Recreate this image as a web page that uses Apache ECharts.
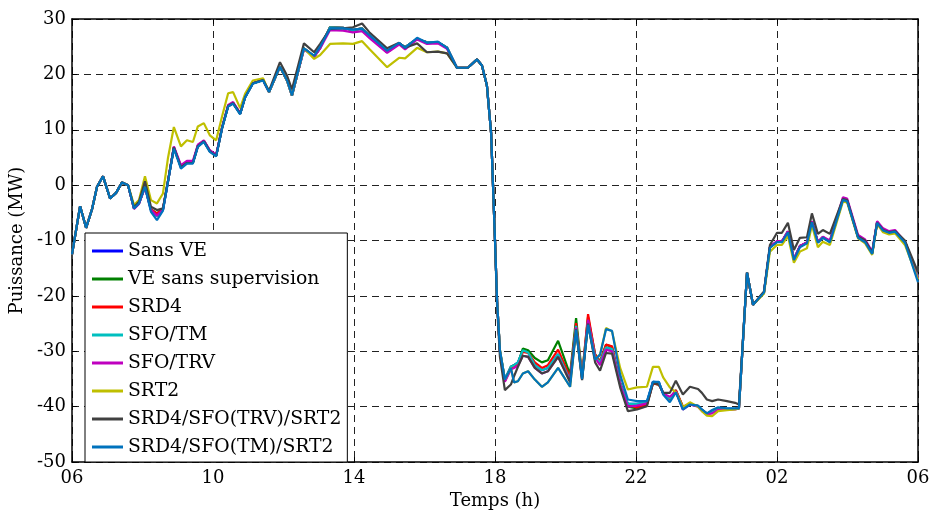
<!DOCTYPE html>
<html>
<head>
<meta charset="utf-8">
<script src="https://cdn.jsdelivr.net/npm/echarts@6/dist/echarts.min.js"></script>
<style>
  html, body { margin: 0; padding: 0; background: #fff; }
  #main { width: 934px; height: 515px; }
</style>
</head>
<body>
<div id="main"></div>
<script>
// time in hours (06h -> 30h = 06h next day)
var hours = [
	6.00, 6.23, 6.40, 6.57, 6.71, 6.88, 7.08, 7.25, 7.42, 7.59,
	7.76, 7.90, 8.07, 8.24, 8.41, 8.58, 8.72, 8.89, 9.09, 9.26, 9.43, 9.57, 9.74, 9.91, 10.09,
	10.26, 10.43, 10.57, 10.77, 10.91, 11.13, 11.42, 11.59, 11.90, 12.10, 12.24, 12.58, 12.87, 13.04, 13.32, 13.69, 13.97,
	14.23, 14.45, 14.94, 15.28, 15.45, 15.79, 16.07, 16.38, 16.64, 16.92, 17.23, 17.49, 17.63, 17.77, 17.89,
	18.00, 18.06, 18.14, 18.28, 18.45, 18.54, 18.65, 18.79, 18.94, 19.13, 19.33, 19.50, 19.79, 20.13, 20.30, 20.47, 20.64, 20.84, 20.98, 21.15, 21.32, 21.55, 21.77, 22.03,
	22.31, 22.48, 22.65, 22.77, 22.96, 23.13, 23.33, 23.53, 23.76, 23.87, 24.01, 24.16, 24.33, 24.58, 24.81, 24.92,
	25.15, 25.32, 25.63, 25.80, 26.00, 26.14, 26.31, 26.48, 26.65, 26.85, 26.99, 27.16, 27.30, 27.50, 27.87, 27.99, 28.30, 28.50, 28.70, 28.84, 29.01, 29.18, 29.35, 29.63, 30.00
];

var sansVE = [
	-12.5, -3.8, -7.7, -4.3, -0.3, 1.6, -2.4, -1.4, 0.5, 0,
	-4.2, -3.3, -0.3, -4.5, -5.6, -4.5, 0.5, 6.8, 3.3, 4.1, 4.1, 7.1, 8, 6.2, 5.3,
	10.4, 14.3, 14.8, 12.9, 15.9, 18.4, 19, 16.8, 21.4, 18.9, 16.2, 24.7, 23.2, 24.8, 28.5, 28.4, 28,
	28.3, 26.8, 24, 25.6, 24.9, 26.4, 25.8, 25.8, 24.8, 21.2, 21.2, 22.7, 21.6, 18, 9.4,
	-10, -21, -30, -35, -32.8, -32.5, -32, -29.8, -30.2, -32.5, -33.4, -33, -30.5, -35.2, -25.4, -34.7, -24.6, -31, -32, -29.3, -29.6, -35.8, -39.5, -39.5,
	-39.2, -35.5, -35.6, -37.6, -38.5, -37.3, -40.3, -39.6, -39.9, -40.6, -41.3, -41, -40.5, -40.4, -40.4, -40.3,
	-15.8, -21.6, -19.4, -11.2, -10.2, -10.2, -8.4, -13.4, -11, -10.4, -6.6, -10.3, -9.4, -10.2, -2.6, -2.8, -9.4, -10.2, -12.3, -6.7, -8.1, -8.5, -8.3, -10.2, -16.5
];

var veSansSup = [
	-12.5, -3.8, -7.7, -4.3, -0.3, 1.6, -2.4, -1.4, 0.5, 0,
	-4.2, -3.3, -0.3, -4.4, -5.1, -4.3, 0.6, 6.8, 3.3, 4.1, 4.1, 7.1, 8, 6.2, 5.3,
	10.4, 14.3, 14.8, 12.9, 15.9, 18.4, 19, 16.8, 21.4, 18.9, 16.2, 24.7, 23.2, 24.8, 28.5, 28.4, 28,
	28.3, 26.8, 24, 25.6, 24.9, 26.4, 25.8, 25.8, 24.8, 21.2, 21.2, 22.7, 21.6, 18, 9.4,
	-10, -21, -30, -35.2, -32.8, -32.5, -32.2, -29.5, -29.8, -31.2, -32, -31.6, -28.1, -34.2, -24, -34.3, -23.8, -30.5, -31.8, -28.8, -29.2, -35.8, -40, -40.3,
	-39.6, -35.8, -36, -37.5, -38.6, -37, -40, -39.5, -39.9, -40.6, -41.2, -41, -40.5, -40.5, -40.4, -40.3,
	-15.8, -21.6, -19.4, -11.2, -10.2, -10.2, -8.4, -13.4, -11, -10.4, -6.6, -10.3, -9.4, -10.2, -2.6, -2.8, -9.4, -10.2, -12.3, -6.7, -8.1, -8.5, -8.3, -10.2, -16.5
];

var srd4 = [
	-12.5, -3.8, -7.7, -4.3, -0.3, 1.6, -2.4, -1.4, 0.5, 0,
	-4.2, -3.3, -0.3, -4.4, -5.1, -4.3, 0.6, 6.8, 3.3, 4.1, 4.1, 7.1, 8, 6.2, 5.3,
	10.4, 14.3, 14.8, 12.9, 15.9, 18.4, 19, 16.8, 21.4, 18.9, 16.2, 24.7, 23.2, 24.8, 28.5, 28.4, 28,
	28.3, 26.8, 24, 25.6, 24.9, 26.4, 25.8, 25.8, 24.8, 21.2, 21.2, 22.7, 21.6, 18, 9.4,
	-10, -21, -30, -35.4, -33, -32.7, -32.4, -30.1, -30.3, -32, -33, -32.5, -29.7, -34.7, -24.9, -34.5, -23.3, -30.6, -31.9, -28.8, -29.1, -35.6, -39.6, -40.2,
	-39.6, -35.8, -36, -37.5, -38.6, -37, -40, -39.5, -39.9, -40.6, -41.2, -41, -40.5, -40.5, -40.4, -40.3,
	-15.8, -21.6, -19.4, -11.2, -10.2, -10.2, -8.4, -13.4, -11, -10.4, -6.6, -10.3, -9.4, -10.2, -2.6, -2.8, -9.4, -10.2, -12.3, -6.7, -8.1, -8.5, -8.3, -10.2, -16.5
];

var sfoTM = [
	-12.5, -3.8, -7.7, -4.3, -0.3, 1.6, -2.4, -1.4, 0.5, 0,
	-4.2, -3.3, -0.3, -4.5, -5.6, -4.5, 0.5, 6.8, 3.3, 4.1, 4.1, 7.1, 8, 6.2, 5.3,
	10.4, 14.3, 14.8, 12.9, 15.9, 18.4, 19, 16.8, 21.4, 18.9, 16.2, 24.7, 23.2, 24.8, 28.5, 28.4, 28,
	28.3, 26.8, 24, 25.6, 24.9, 26.4, 25.8, 25.8, 24.8, 21.2, 21.2, 22.7, 21.6, 18, 9.4,
	-10, -21, -30, -35, -32.8, -32.5, -32, -29.8, -30.2, -32.5, -33.4, -33, -30.5, -35.2, -25.4, -34.7, -24.6, -31, -32, -29.3, -29.6, -35.8, -39.5, -39.5,
	-39.2, -35.5, -35.6, -37.6, -38.5, -37.3, -40.3, -39.6, -39.9, -40.6, -41.3, -41, -40.5, -40.4, -40.4, -40.3,
	-15.8, -21.6, -19.4, -11.2, -10.2, -10.2, -8.4, -13.4, -11, -10.4, -6.6, -10.3, -9.4, -10.2, -2.6, -2.8, -9.4, -10.2, -12.3, -6.7, -8.1, -8.5, -8.3, -10.2, -16.5
];

var sfoTRV = [
	-12.5, -3.8, -7.7, -4.3, -0.3, 1.6, -2.4, -1.4, 0.5, 0,
	-4.3, -3.4, -0.4, -4.5, -5.5, -4.4, 0.6, 7, 3.6, 4.4, 4.4, 7.3, 8.1, 6.3, 5.5,
	10.5, 14.5, 15, 13, 16, 18.4, 19, 16.8, 21.4, 18.9, 16.2, 24.5, 23.2, 24.7, 28, 27.9, 27.6,
	27.8, 26.5, 23.9, 25.4, 24.5, 26.3, 25.5, 25.6, 24.6, 21.2, 21.2, 22.7, 21.6, 18, 9.4,
	-10, -21, -30, -35.5, -33.3, -33, -32.6, -30.8, -31, -33, -34, -33.6, -31, -35.4, -25.7, -35, -24.3, -31.2, -32.5, -29.7, -30, -36, -40, -39.8,
	-39.4, -35.6, -35.8, -37.6, -38.2, -37.2, -40.5, -39.6, -40, -40.8, -41.4, -41.2, -40.6, -40.5, -40.5, -40.3,
	-15.8, -21.6, -19.4, -11.1, -10.1, -10.1, -8.3, -13.3, -11, -10.3, -6.5, -10.2, -9.3, -10, -2.2, -2.4, -9, -9.8, -12, -6.5, -7.8, -8.3, -8.1, -10.2, -16.8
];

var srt2 = [
	-12.5, -3.8, -7.7, -4.3, -0.3, 1.6, -2.4, -1.4, 0.5, 0,
	-3.6, -2.7, 1.6, -2.7, -3.3, -1.5, 4.8, 10.5, 7, 8.1, 7.8, 10.6, 11.2, 9, 8.1,
	12.5, 16.6, 16.8, 13.9, 16.5, 18.9, 19.3, 16.8, 21.4, 18.9, 16.2, 24.7, 22.8, 23.5, 25.5, 25.6, 25.5,
	26, 24.5, 21.3, 23, 22.9, 24.8, 24, 24.1, 23.8, 21.2, 21.2, 22.7, 21.6, 18, 9.4,
	-10, -21, -29.7, -35.1, -33, -35.6, -35.4, -34, -33.6, -35.1, -36.4, -35.6, -33, -36.4, -26.1, -35, -25.2, -31.5, -30.6, -25.8, -26.4, -33, -36.9, -36.5,
	-36.4, -32.8, -32.8, -34.7, -36.5, -37.4, -40.1, -39.2, -40, -40.8, -41.6, -41.7, -40.8, -40.6, -40.5, -40.3,
	-15.8, -21.6, -19.6, -12, -10.8, -10.8, -9.2, -14, -12, -11.4, -7.2, -11.2, -10.2, -10.8, -3, -3.1, -9.6, -10.5, -12.6, -7, -8.5, -8.9, -8.7, -10.8, -17
];

var srd4TRV = [
	-12.5, -3.8, -7.7, -4.3, -0.3, 1.6, -2.4, -1.4, 0.5, 0,
	-4, -3, 0.7, -3.9, -4.5, -4.2, 0.7, 6.8, 3.2, 4, 4, 7, 7.9, 6.1, 5.3,
	10.4, 14.3, 14.8, 12.9, 15.9, 18.4, 19, 17, 22.2, 19.8, 17.3, 25.6, 24, 25.5, 28.2, 28.3, 28.5,
	29.2, 27.5, 24.7, 25.7, 24.8, 25.6, 24, 24.1, 23.8, 21.2, 21.2, 22.7, 21.6, 18, 9.4,
	-10, -22, -31, -37, -36, -34.5, -32.8, -30.8, -31, -33, -34, -33.6, -31, -35.6, -26, -35.2, -25, -32, -33.5, -30.3, -30.4, -36.5, -40.8, -40.5,
	-39.9, -35.7, -36, -37.5, -37.5, -35.3, -37.8, -36.4, -36.8, -37.5, -38.7, -39, -38.7, -39, -39.3, -39.6,
	-15.8, -21.6, -19.2, -10.8, -8.6, -8.6, -6.8, -11.7, -9.5, -9.4, -5.1, -8.8, -8.1, -8.8, -2.5, -2.7, -9.3, -10, -12.2, -6.8, -8.1, -8.5, -8.3, -10, -15.7
];

var srd4TM = [
	-12.5, -3.8, -7.7, -4.3, -0.3, 1.6, -2.4, -1.4, 0.5, 0,
	-4.2, -3.3, -0.3, -4.8, -6.3, -4.6, 0.5, 6.6, 3, 3.9, 3.9, 6.9, 7.8, 6, 5.2,
	10.3, 14.2, 14.7, 12.8, 15.8, 18.3, 18.9, 16.8, 21.4, 18.9, 16.2, 24.7, 23.4, 25, 28.3, 28.3, 28.1,
	28.2, 27, 24.3, 25.7, 24.8, 26.6, 25.7, 25.9, 24.8, 21.2, 21.2, 22.7, 21.6, 18, 9.4,
	-10, -21, -29.7, -35.1, -33, -35.6, -35.4, -34, -33.6, -35.1, -36.4, -35.6, -33, -36.4, -26.1, -35, -25.2, -31.5, -30.6, -26, -26.3, -34.2, -38.7, -39,
	-39, -35.5, -35.5, -37.8, -39.2, -37.4, -40.5, -39.6, -39.8, -40.5, -41.2, -40.6, -40.1, -40.3, -40.3, -40.3,
	-15.8, -21.6, -19.4, -11.3, -10.3, -10.3, -8.5, -13.5, -11.2, -10.5, -6.7, -10.4, -9.5, -10.3, -2.7, -2.9, -9.5, -10.3, -12.4, -6.8, -8.2, -8.6, -8.4, -10.4, -17.5
];

var seriesNames = ['Sans VE', 'VE sans supervision', 'SRD4', 'SFO/TM', 'SFO/TRV', 'SRT2', 'SRD4/SFO(TRV)/SRT2', 'SRD4/SFO(TM)/SRT2'];
var seriesValues = [sansVE, veSansSup, srd4, sfoTM, sfoTRV, srt2, srd4TRV, srd4TM];
var seriesColors = ['#0000ff', '#008000', '#ff0000', '#00bfbf', '#bf00bf', '#bfbf00', '#404040', '#0072bd'];

var fontName = 'DejaVu Serif';

function pairs(values) {
	var out = [];
	for (var i = 0; i < hours.length; i++) {
		out.push([hours[i], values[i]]);
	}
	return out;
}

var mychart = echarts.init(document.getElementById('main'));

var series = [];
for (var k = 0; k < seriesNames.length; k++) {
	series.push({
		name: seriesNames[k],
		type: 'line',
		data: pairs(seriesValues[k]),
		symbol: 'none',
		lineStyle: { color: seriesColors[k], width: 2.2 },
		itemStyle: { color: seriesColors[k] },
		animation: false
	});
}

var dashed = { show: true, lineStyle: { color: '#222', type: [7, 5], width: 1 } };

var option = {
	animation: false,
	grid: { left: 72, right: 16, top: 19, bottom: 51 },
	legend: {
		orient: 'vertical',
		left: 85,
		top: 233,
		data: seriesNames,
		icon: 'rect',
		itemWidth: 31,
		itemHeight: 3,
		itemGap: 8,
		padding: [8, 6, 5, 7],
		backgroundColor: '#fff',
		borderColor: '#000',
		borderWidth: 1,
		borderRadius: 0,
		selectedMode: false,
		textStyle: { fontFamily: fontName, fontSize: 18.8, color: '#000', lineHeight: 20 }
	},
	xAxis: [{
		type: 'value',
		min: 6,
		max: 30,
		interval: 4,
		name: 'Temps (h)',
		nameLocation: 'middle',
		nameGap: 26,
		nameTextStyle: { fontFamily: fontName, fontSize: 18, color: '#000' },
		axisLine: { onZero: false, lineStyle: { color: '#000', width: 1.5 } },
		axisTick: { inside: true, length: 5, lineStyle: { color: '#000' } },
		axisLabel: {
			fontFamily: fontName, fontSize: 18, color: '#000', margin: 7,
			formatter: function (v) { return String(v % 24).padStart(2, '0'); }
		},
		splitLine: dashed
	}, {
		type: 'value',
		position: 'top',
		min: 6,
		max: 30,
		interval: 4,
		axisLine: { show: true, onZero: false, lineStyle: { color: '#000', width: 1.5 } },
		axisTick: { inside: true, length: 5, lineStyle: { color: '#000' } },
		axisLabel: { show: false },
		splitLine: { show: false }
	}],
	yAxis: [{
		type: 'value',
		min: -50,
		max: 30,
		interval: 10,
		name: 'Puissance (MW)',
		nameLocation: 'middle',
		nameGap: 44,
		nameTextStyle: { fontFamily: fontName, fontSize: 18, color: '#000' },
		axisLine: { show: true, onZero: false, lineStyle: { color: '#000', width: 1.5 } },
		axisTick: { show: true, inside: true, length: 5, lineStyle: { color: '#000' } },
		axisLabel: { fontFamily: fontName, fontSize: 18, color: '#000', margin: 6 },
		splitLine: dashed
	}, {
		type: 'value',
		position: 'right',
		min: -50,
		max: 30,
		interval: 10,
		axisLine: { show: true, onZero: false, lineStyle: { color: '#000', width: 1.5 } },
		axisTick: { show: true, inside: true, length: 5, lineStyle: { color: '#000' } },
		axisLabel: { show: false },
		splitLine: { show: false }
	}],
	series: series
};

mychart.setOption(option);
</script>
</body>
</html>
